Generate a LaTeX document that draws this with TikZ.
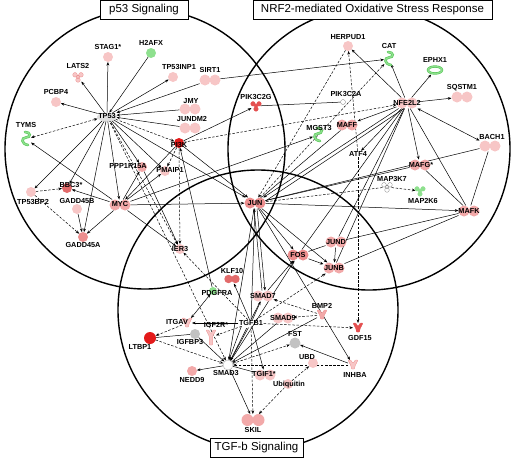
\documentclass[tikz,border=0pt]{standalone}
\usepackage{fontspec}
\newfontfamily\lab{Liberation Sans}
\usetikzlibrary{arrows.meta}
\pgfdeclarelayer{circ}
\pgfdeclarelayer{edges}
\pgfsetlayers{circ,edges,main}
\definecolor{pkA}{HTML}{F7C6C6}
\definecolor{pkB}{HTML}{F2A9A9}
\definecolor{pkC}{HTML}{EC8E8E}
\definecolor{rdA}{HTML}{E31A1A}
\definecolor{rdB}{HTML}{E45050}
\definecolor{rdC}{HTML}{E26A6A}
\definecolor{gnA}{HTML}{8EE08E}
\definecolor{gnB}{HTML}{5CC85C}
\definecolor{gyA}{HTML}{C2C2C2}
\tikzset{
 cn/.style={circle, minimum size=10pt, inner sep=0pt, outer sep=0pt},
 an/.style={inner sep=0pt, outer sep=0pt, minimum width=#1, minimum height=#1},
 pn/.style={inner sep=0pt, outer sep=0pt, minimum width=21pt, minimum height=11pt},
 lb/.style={font=\lab\bfseries\fontsize{7.3}{8}\selectfont, inner sep=0.5pt},
 bx/.style={draw, line width=0.8pt, fill=white, font=\lab\fontsize{11.5}{13}\selectfont, inner xsep=4pt, minimum height=19pt},
 ln/.style={line width=0.5pt},
 arr/.style={ln, -{Stealth[length=3.6pt,width=2.8pt]}},
 barr/.style={ln, {Stealth[length=3.6pt,width=2.8pt]}-{Stealth[length=3.6pt,width=2.8pt]}},
 dsh/.style={dash pattern=on 2.5pt off 1.6pt},
 bigc/.style={line width=1.4pt}
}
\newcommand\Pn[3]{\fill[#3] (#2) ++(-5pt,0) circle (5.5pt) ++(10pt,0) circle (5.5pt); \node[pn] (#1) at (#2) {};}
\newcommand\Cn[3]{\node[cn, fill=#3] (#1) at (#2) {};}
\newcommand\Vr[3]{\filldraw[fill=#2, draw=#3, line width=0.3pt, shift={(#1)}, rounded corners=0.8pt] (-5,-5) -- (-2.2,-5) -- (0,-1.5) -- (2.2,-5) -- (5,-5) -- (1.8,1.5) -- (1.8,4) -- (-1.8,4) -- (-1.8,1.5) -- cycle;}
\newcommand\Tr[3]{\filldraw[fill=#2, draw=#3, line width=0.3pt, shift={(#1)}] (0,0) circle (1.8pt) (-3,-2.2) circle (2.3pt) (3,-2.2) circle (2.3pt) (0,3) circle (2.3pt);}
\newcommand\Sp[1]{\draw[line width=2.6pt, draw=gnB, shift={(#1)}, line cap=round] (-1,-7) .. controls (5,-7) and (5,-1.5) .. (0,-1.5) .. controls (-5,-1.5) and (-5,5) .. (2,6);
 \draw[line width=1.3pt, draw=gnA, shift={(#1)}, line cap=round] (-1,-7) .. controls (5,-7) and (5,-1.5) .. (0,-1.5) .. controls (-5,-1.5) and (-5,5) .. (2,6);}
\begin{document}
\begin{tikzpicture}[x=1pt,y=-1pt]
\useasboundingbox (0,0) rectangle (512,459);
\begin{pgfonlayer}{circ}
\draw[bigc] (145,149) circle (140pt);
\draw[bigc] (369,149) circle (141pt);
\draw[bigc] (258,310) circle (140pt);
\end{pgfonlayer}
% ---------- p53 region
\Cn{stag}{108,57}{pkA} \node[lb] at (108,47) {STAG1*};
\Cn{h2afx}{151,53}{gnA} \node[lb] at (151,43) {H2AFX};
\Tr{78,77}{pkA}{pkC} \node[an=9pt] (lats2) at (78,77) {}; \node[lb] at (78,66) {LATS2};
\Cn{tp53inp1}{173,77}{pkA} \node[lb] at (179,67) {TP53INP1};
\Cn{pcbp4}{56,102}{pkA} \node[lb] at (56,92) {PCBP4};
\fill[gray!25] (107,117) ellipse (10pt and 4.5pt); \node[lb] (tp53) at (107,116) {TP53};
\Sp{26,139} \node[an=10pt] (tyms) at (26,139) {}; \node[lb] at (26,125) {TYMS};
\Pn{sirt1}{210,80}{pkA} \node[lb] at (210,70) {SIRT1};
\Pn{jmy}{190,109}{pkA} \node[lb] at (191,101) {JMY};
\Pn{jundm2}{190,128}{pkA} \node[lb] at (192,119) {JUNDM2};
\Cn{pi3k}{179,143}{rdA} \node[lb] at (179,145) {PI3K};
\Cn{tp53bp2}{31,192}{pkA} \node[lb] at (33,202) {TP53BP2};
\Cn{bbc3}{67,188}{rdC} \node[lb] at (71,185) {BBC3*};
\Cn{gadd45b}{77,209}{pkA} \node[lb] at (77,201) {GADD45B};
\Cn{gadd45a}{83,237}{pkC} \node[lb] at (83,245) {GADD45A};
\Pn{myc}{120,205}{pkB} \node[lb] at (120,204) {MYC};
\Cn{ppp1r15a}{142,167}{pkB} \node[lb] at (128,166) {PPP1R15A};
\Cn{pmaip1}{165,171}{pkA} \node[lb] at (170,170) {PMAIP1};
\Cn{ier3}{180,249}{pkA} \node[lb] at (180,249) {IER3};
% ---------- NRF2 region
\Tr{256,106}{rdB}{rdB} \node[an=9pt] (pik3c2g) at (256,106) {}; \node[lb] at (256,97) {PIK3C2G};
\node[cn, minimum size=5pt, draw=gray, fill=white, line width=0.3pt] (pik3c2a) at (343,102) {}; \node[lb] at (346,94) {PIK3C2A};
\Sp{318,135} \node[an=10pt] (mgst3) at (318,135) {}; \node[lb] at (319,128) {MGST3};
\Pn{maff}{347,125}{pkB} \node[lb] at (347,125) {MAFF};
\Cn{herpud1}{348,46}{pkA} \node[lb] at (348,37) {HERPUD1};
\Sp{389,59} \node[an=10pt] (cat) at (389,59) {}; \node[lb] at (389,46) {CAT};
\draw[gnB, line width=2.4pt] (435,70) ellipse (7pt and 3.5pt);
\draw[gnA, line width=1.1pt] (435,70) ellipse (7pt and 3.5pt);
\node[an=0pt, minimum width=16pt, minimum height=9pt] (ephx1) at (435,70) {}; \node[lb] at (435,60) {EPHX1};
\Pn{sqstm1}{462,97}{pkA} \node[lb] at (462,88) {SQSTM1};
\Pn{nfe2l2}{407,103}{pkA} \node[lb] at (407,103) {NFE2L2};
\Pn{bach1}{490,146}{pkA} \node[lb] at (492,137) {BACH1};
\node[lb] (atf4) at (358,154) {ATF4};
\Pn{mafg}{420,165}{pkB} \node[lb] at (421,165) {MAFG*};
\Tr{387,187}{white}{gray} \node[an=9pt] (map3k7) at (387,187) {}; \node[lb] at (392,179) {MAP3K7};
\Tr{420,191}{gnA}{gnA} \node[an=9pt] (map2k6) at (420,191) {}; \node[lb] at (423,201) {MAP2K6};
\Pn{mafk}{469,211}{pkB} \node[lb] at (469,211) {MAFK};
\Pn{jund}{336,242}{pkB} \node[lb] at (336,242) {JUND};
\Pn{junb}{334,268}{pkB} \node[lb] at (334,268) {JUNB};
% ---------- centre / TGF region
\Pn{jun}{255,203}{pkC} \node[lb] at (255,203) {JUN};
\Pn{fos}{298,255}{pkC} \node[lb] at (298,255) {FOS};
\fill[rdC] (232,279) ++(-3.5pt,0) circle (4.2pt) ++(7pt,0) circle (4.2pt);
\node[an=0pt, minimum width=15pt, minimum height=9pt] (klf10) at (232,279) {}; \node[lb] at (232,271) {KLF10};
\node[cn, minimum size=8pt, fill=gnA] (pdgfra) at (213,291) {}; \node[lb] at (217,293) {PDGFRA};
\Pn{smad7}{263,296}{pkA} \node[lb] at (263,296) {SMAD7};
\Vr{322,315}{pkB}{pkC} \node[an=10pt] (bmp2) at (322,315) {}; \node[lb] at (322,306) {BMP2};
\Vr{187,323}{pkA}{pkC} \node[an=10pt] (itgav) at (187,323) {}; \node[lb] at (177,322) {ITGAV};
\filldraw[fill=pkA, draw=pkC, line width=0.3pt, shift={(211,337)}, rounded corners=0.8pt] (-5,-7) -- (-2.2,-7) -- (0,-3) -- (2.2,-7) -- (5,-7) -- (1.8,-1) -- (1.8,8) -- (-1.8,8) -- (-1.8,-1) -- cycle;
\node[an=0pt, minimum width=10pt, minimum height=15pt] (igf2r) at (211,337) {}; \node[lb] at (216,325) {IGF2R*};
\fill[white] (247,324) ellipse (5pt and 4pt); \node[lb] (tgfb1) at (251,323) {TGFB1};
\Pn{smad9}{283,318}{pkA} \node[lb] at (283,318) {SMAD9};
\Vr{358,328}{rdB}{rdB} \node[an=10pt] (gdf15) at (358,328) {}; \node[lb] at (360,338) {GDF15};
\node[cn, minimum size=12pt, fill=rdA] (ltbp1) at (150,338) {}; \node[lb] at (140,347) {LTBP1};
\Cn{igfbp3}{195,334}{gyA} \node[lb] at (190,342) {IGFBP3};
\node[cn, minimum size=11pt, fill=gyA] (fst) at (295,343) {}; \node[lb] at (295,334) {FST};
\Cn{ubd}{313,363}{pkA} \node[lb] at (307,357) {UBD};
\Vr{353,365}{pkA}{pkC} \node[an=10pt] (inhba) at (353,365) {}; \node[lb] at (355,375) {INHBA};
\node[cn, fill=white, draw=gray!60, line width=0.4pt] (smad3) at (228,365) {}; \node[lb] at (226,373) {SMAD3};
\Cn{nedd9}{192,371}{pkB} \node[lb] at (192,380) {NEDD9};
\Pn{tgif1}{265,375}{pkA} \node[lb] at (264,374) {TGIF1*};
\Cn{ubiq}{288,384}{pkA} \node[lb] at (289,385) {Ubiquitin};
\fill[pkB] (253,420) ++(-5.5pt,0) circle (6pt) ++(11pt,0) circle (6pt); \node[an=0pt, minimum width=23pt, minimum height=12pt] (skil) at (253,420) {}; \node[lb] at (253,430) {SKIL};
% ---------- boxes
\node[bx, minimum width=88pt] (lp53) at (144,10) {p53 Signaling};
\node[bx, minimum width=239pt] (lnrf) at (372.5,10) {NRF2-mediated Oxidative Stress Response};
\node[bx, minimum width=93pt] (ltgf) at (256.5,448) {TGF-b Signaling};
% ---------- edges
\begin{pgfonlayer}{edges}
\draw[arr] (tp53) -- (stag);
\draw[arr] (tp53) -- (lats2);
\draw[arr] (h2afx) -- (tp53);
\draw[arr] (tp53) -- (tp53inp1);
\draw[arr] (tp53) -- (pcbp4);
\draw[barr,dsh] (tyms) -- (tp53);
\draw[arr] (sirt1) -- (tp53);
\draw[arr] (jmy) -- (tp53);
\draw[arr] (jundm2) -- (tp53);
\draw[arr,dsh] (tp53) -- (pi3k);
\draw[arr] (tp53) -- (ppp1r15a);
\draw[arr] (tp53) -- (pmaip1);
\draw[arr] (tp53) -- (myc);
\draw[arr] (tp53) -- (bbc3);
\draw[arr] (tp53) -- (tp53bp2);
\draw[arr] (tp53) -- (gadd45a);
\draw[arr,dsh] (tp53) -- (ier3);
\draw[arr] (tp53) -- (jun);
\draw[arr,dsh] (tp53) -- (smad3);
\draw[arr] (myc) -- (tyms);
\draw[arr,dsh] (tp53bp2) -- (bbc3);
\draw[arr,dsh] (tp53bp2) -- (gadd45a);
\draw[arr] (gadd45b) -- (gadd45a);
\draw[arr] (myc) -- (gadd45a);
\draw[arr] (myc) -- (bbc3);
\draw[arr] (myc) -- (ppp1r15a);
\draw[arr] (myc) -- (pmaip1);
\draw[arr] (myc) -- (ier3);
\draw[arr] (myc) -- (jun);
\draw[arr] (myc) -- (mgst3);
\draw[arr,dsh] (pi3k) -- (pmaip1);
\draw[arr] (pi3k) -- (myc);
\draw[arr,dsh] (pi3k) -- (ier3);
\draw[arr] (pi3k) -- (jun);
\draw[arr] (pi3k) -- (pik3c2g);
\draw[arr,dsh] (pi3k) -- (nfe2l2);
\draw[arr] (pdgfra) -- (pi3k);
\draw[arr] (ppp1r15a) -- (ier3);
\draw[arr] (sirt1) -- (cat);
% NRF2
\draw[arr] (nfe2l2) -- (herpud1);
\draw[arr] (nfe2l2) -- (cat);
\draw[arr] (nfe2l2) -- (ephx1);
\draw[arr] (nfe2l2) -- (sqstm1);
\draw[barr] (nfe2l2) -- (bach1);
\draw[arr] (nfe2l2) -- (mafg);
\draw[ln] (nfe2l2) -- (mafk);
\draw[arr] (nfe2l2) -- (maff);
\draw[arr] (nfe2l2) -- (atf4);
\draw[arr] (nfe2l2) -- (jun);
\draw[ln] ([xshift=-3pt]nfe2l2.south) -- ([yshift=2pt]jun.east);
\draw[ln] (nfe2l2) -- (junb);
\draw[ln] (nfe2l2) -- (jund);
\draw[ln] (nfe2l2) -- (fos);
\draw[ln] (pik3c2g) -- (pik3c2a);
\draw[arr,dsh] (atf4) -- (herpud1);
\draw[arr,dsh] (atf4) -- (gdf15);
\draw[arr,dsh] (herpud1) -- (jun);
\draw[arr,dsh] (jun) -- (cat);
\draw[ln] (mafg) -- (mafk);
\draw[ln] (bach1) -- (mafk);
\draw[ln] (bach1) -- (jun);
\draw[arr,dsh] (map3k7) -- (map2k6);
\draw[ln,dsh] (map3k7) -- (jun);
\draw[arr] (jun) -- (mafk);
\draw[ln] (mafk) -- (junb);
\draw[ln] (mafk) -- (jund);
\draw[ln] (mafg) -- (jun);
\draw[ln] (maff) -- (jun);
% JUN
\draw[arr] (jun) -- (fos);
\draw[arr] (jun) -- (junb);
\draw[arr] (fos) -- (junb);
\draw[ln] (fos) -- (jund);
\draw[arr] (jund) -- (junb);
\draw[arr] (smad7) -- (fos);
\draw[arr] ([xshift=2pt]jun.south) -- ([xshift=2pt]smad7.north);
\draw[arr] ([xshift=-1pt]smad7.north) -- ([xshift=-1pt]jun.south);
\draw[ln] (jun) -- (tgfb1);
\draw[arr] (jun) -- (smad3);
% TGF
\draw[barr] (pdgfra) -- (itgav);
\draw[arr] (tgfb1) -- (klf10);
\draw[arr,dsh] (tgfb1) -- (ier3);
\draw[arr] (tgfb1) -- (itgav);
\draw[arr,dsh] (tgfb1) -- (igf2r);
\draw[arr,dsh] (itgav) -- (ltbp1);
\draw[arr] (tgfb1) -- (smad3);
\draw[arr] ([xshift=3pt]tgfb1.south west) -- ([xshift=1pt]smad3.north);
\draw[arr] (tgfb1) -- (smad7);
\draw[arr,dsh] (tgfb1) -- (gdf15);
\draw[arr,dsh] (tgfb1) -- (skil);
\draw[arr] (tgfb1) -- (tgif1);
\draw[arr,dsh] (bmp2) -- (smad9);
\draw[arr,dsh] (bmp2) -- (smad7);
\draw[arr] (bmp2) -- (smad3);
\draw[arr] (inhba) -- (fst);
\draw[arr,dsh] (inhba) -- (smad3);
\draw[arr] (jun) -- (inhba);
\draw[ln] (ltbp1) -- (igfbp3);
\draw[arr,dsh] (ltbp1) -- (smad3);
\draw[arr] (igfbp3) -- (smad3);
\draw[arr] (smad3) -- (nedd9);
\draw[arr,dsh] (smad3) -- (fst);
\draw[arr] (smad3) -- (skil);
\draw[ln] (tgif1) -- (smad3);
\draw[arr,dsh] (ubiq) -- (ubd);
\draw[arr,dsh] (ubiq) -- (skil);
\draw[ln] (smad9) -- (smad3);
\draw[arr] (smad7) -- (smad3);
\draw[arr,dsh] (tgfb1) -- (junb);
\draw[arr] (smad3) -- (fos);
\end{pgfonlayer}
\end{tikzpicture}
\end{document}
